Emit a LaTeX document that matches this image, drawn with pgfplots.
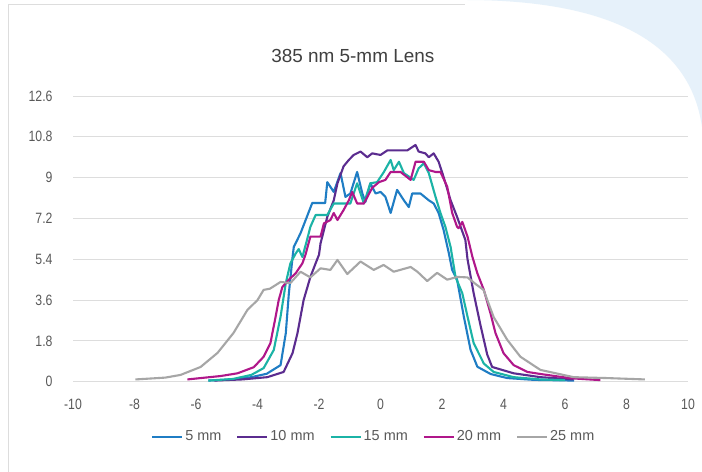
\documentclass[border=0pt]{standalone}
\usepackage{pgfplots}
\pgfplotsset{compat=1.18}
\usepackage{fontspec}
\setmainfont{Liberation Sans}
\newfontfamily\condensed{Liberation Sans}[FakeStretch=0.82]

\definecolor{cFive}{HTML}{1F7DC4}
\definecolor{cTen}{HTML}{5B2C8F}
\definecolor{cFifteen}{HTML}{1BB3A6}
\definecolor{cTwenty}{HTML}{B0178A}
\definecolor{cTwentyFive}{HTML}{A6A6A6}
\definecolor{gridc}{HTML}{DDDDDD}
\definecolor{txt}{HTML}{595959}
\definecolor{bgblue}{HTML}{E6F1FA}

\begin{document}
\begin{tikzpicture}
\useasboundingbox (0bp,0bp) rectangle (702bp,472bp);
\fill[white] (0bp,0bp) rectangle (702bp,472bp);
% light blue corner behind the card
\fill[bgblue] (465bp,472bp) .. controls (610bp,472bp) and (690bp,430bp) .. (702bp,345bp) -- (702bp,472bp) -- cycle;
\draw[gridc, line width=1bp] (8bp,0bp) -- (8bp,467bp) -- (465bp,467bp);

\begin{axis}[
    at={(73bp,90.3bp)}, anchor=south west,
    scale only axis,
    width=615bp, height=285.7bp,
    xmin=-10, xmax=10,
    ymin=0, ymax=12.6,
    xtick={-10,-8,...,10},
    ytick={0,1.8,3.6,5.4,7.2,9,10.8,12.6},
    yticklabels={0,1.8,3.6,5.4,7.2,9,10.8,12.6},
    axis line style={draw=none},
    major tick length=0pt,
    ymajorgrids=true,
    grid style={gridc, line width=0.8bp},
    /pgf/number format/assume math mode=true,
    tick label style={font=\condensed\fontsize{15}{18}\selectfont, text=txt},
    yticklabel style={xshift=-17bp},
    xticklabel style={yshift=-14bp},
    title={385 nm 5-mm Lens},
    title style={font=\fontsize{19}{22}\selectfont, text=black!75,
        at={(0.455,1)}, anchor=center, yshift=34bp},
    legend columns=5,
    legend style={draw=none, fill=none, at={(0.489,-0.1925)}, anchor=center,
        font=\fontsize{14.5}{17}\selectfont, text=txt,
        /tikz/every odd column/.append style={column sep=0bp},
        /tikz/every even column/.append style={column sep=13bp}},
    legend image code/.code={\draw[#1] (0bp,0bp) -- (30bp,0bp);},
    every axis plot/.append style={line width=2.1bp, line join=round},
]

\addplot[cFive] coordinates {
(-5.6,0.05)(-4.8,0.1)(-4.2,0.2)(-3.7,0.35)(-3.25,0.73)(-3.08,2.14)(-2.98,3.9)(-2.86,5.5)
(-2.82,5.94)(-2.6,6.55)(-2.22,7.88)(-1.8,7.88)(-1.73,8.8)(-1.52,8.37)(-1.3,9.2)(-1.14,8.15)
(-0.98,8.3)(-0.76,9.25)(-0.59,8.3)(-0.49,7.93)(-0.33,8.75)(-0.16,8.3)(0,8.37)(0.16,8.15)
(0.33,7.44)(0.54,8.46)(0.76,8.0)(0.92,7.7)(1.03,8.3)(1.3,8.3)(1.57,8.0)(1.73,7.86)
(1.89,7.44)(2.05,6.7)(2.22,5.68)(2.33,4.93)(2.49,4.5)(2.71,2.87)(2.93,1.4)(3.15,0.66)
(3.58,0.34)(4.12,0.16)(5.0,0.08)(6.3,0.05)
};
\addlegendentry{5 mm}

\addplot[cTen] coordinates {
(-5.4,0.05)(-4.5,0.1)(-3.68,0.2)(-3.15,0.43)(-2.86,1.26)(-2.7,2.14)(-2.5,3.6)(-2.28,4.62)
(-2.11,5.22)(-2.0,5.6)(-1.95,6.1)(-1.73,7.27)(-1.52,8.0)(-1.4,8.75)(-1.2,9.5)(-1.03,9.78)
(-0.87,10.0)(-0.65,10.15)(-0.43,9.9)(-0.27,10.07)(0,10.0)(0.22,10.2)(0.87,10.2)(1.14,10.44)
(1.24,10.15)(1.46,10.07)(1.57,9.9)(1.73,10.07)(1.89,9.7)(2.05,9.04)(2.28,8.0)(2.49,7.27)
(2.76,6.25)(2.83,5.4)(3.03,3.9)(3.25,2.5)(3.47,1.2)(3.63,0.65)(4.33,0.37)(5.2,0.2)(6.28,0.1)
};
\addlegendentry{10 mm}

\addplot[cFifteen] coordinates {
(-5.6,0.05)(-4.8,0.12)(-4.2,0.3)(-3.8,0.6)(-3.47,1.4)(-3.25,2.87)(-3.08,4.35)(-2.93,5.22)
(-2.76,5.65)(-2.66,5.85)(-2.54,5.5)(-2.4,6.2)(-2.28,6.83)(-2.11,7.35)(-1.73,7.35)(-1.52,7.86)
(-0.98,7.86)(-0.76,8.75)(-0.54,7.86)(-0.33,8.75)(-0.11,8.8)(0.11,9.25)(0.33,9.78)(0.43,9.33)
(0.6,9.7)(0.76,9.2)(1.08,8.9)(1.24,9.41)(1.41,9.63)(1.57,9.2)(1.79,8.15)(1.95,7.44)
(2.11,6.83)(2.28,5.94)(2.44,4.62)(2.66,3.9)(2.83,2.87)(3.03,1.7)(3.36,0.8)(3.68,0.43)
(4.33,0.2)(5.2,0.1)(6.0,0.07)
};
\addlegendentry{15 mm}

\addplot[cTwenty] coordinates {
(-6.28,0.1)(-5.2,0.25)(-4.65,0.37)(-4.12,0.64)(-3.8,1.1)(-3.58,1.7)(-3.41,2.87)(-3.31,3.6)
(-3.19,4.18)(-2.98,4.5)(-2.76,4.78)(-2.54,5.22)(-2.44,5.6)(-2.28,6.4)(-1.95,6.4)(-1.84,6.98)
(-1.63,7.13)(-1.52,7.44)(-1.4,7.13)(-1.2,7.57)(-1.03,8.0)(-0.92,8.37)(-0.76,7.86)(-0.54,7.86)
(-0.27,8.55)(-0.05,8.8)(0.16,8.9)(0.33,9.25)(0.65,9.25)(0.98,8.9)(1.14,9.7)(1.41,9.7)
(1.57,9.33)(1.79,9.25)(1.95,9.25)(2.17,8.6)(2.33,7.45)(2.49,6.83)(2.54,6.77)(2.66,7.05)
(2.83,6.4)(2.99,5.5)(3.15,4.78)(3.36,4.05)(3.58,3.0)(3.74,2.14)(4.0,1.26)(4.33,0.73)
(4.78,0.43)(5.2,0.34)(6.2,0.15)(7.15,0.07)
};
\addlegendentry{20 mm}

\addplot[cTwentyFive] coordinates {
(-7.97,0.1)(-7,0.18)(-6.5,0.3)(-5.85,0.65)(-5.3,1.27)(-4.78,2.15)(-4.33,3.16)(-4.0,3.6)
(-3.8,4.05)(-3.6,4.1)(-3.48,4.2)(-3.25,4.4)(-2.93,4.35)(-2.6,4.85)(-2.28,4.6)(-1.95,5.0)
(-1.63,4.93)(-1.4,5.37)(-1.08,4.75)(-0.65,5.3)(-0.22,4.93)(0.1,5.15)(0.43,4.85)(0.98,5.06)
(1.2,4.85)(1.52,4.44)(1.84,4.8)(2.17,4.5)(2.5,4.62)(2.83,4.6)(3.1,4.3)(3.35,4.05)
(3.68,2.85)(4.12,1.85)(4.55,1.1)(5.2,0.52)(6.28,0.2)(7.37,0.16)(8.6,0.1)
};
\addlegendentry{25 mm}

\end{axis}
\end{tikzpicture}
\end{document}
